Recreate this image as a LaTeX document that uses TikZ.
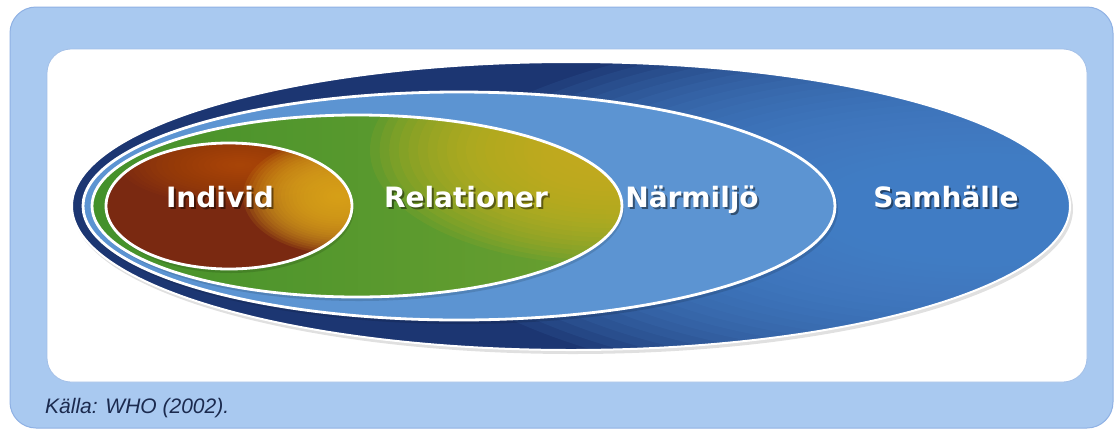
\documentclass[tikz,border=0pt]{standalone}
\usepackage{fontspec}
\setmainfont{Liberation Sans}
\newfontfamily\lblfont{DejaVu Sans}
\definecolor{frameblue}{HTML}{A9C9F0}
\definecolor{frameedge}{HTML}{8FB1E4}
\definecolor{inneredge}{HTML}{A3C0E8}
\definecolor{navy}{HTML}{1C3672}
\definecolor{samlight}{HTML}{4884CC}
\definecolor{narblue}{HTML}{5C94D2}
\definecolor{relgreenL}{HTML}{43912B}
\definecolor{relgreenR}{HTML}{6CA030}
\definecolor{relyellow}{HTML}{CDB21E}
\definecolor{indbrown}{HTML}{7A2911}
\definecolor{indochre}{HTML}{DCA61E}
\definecolor{captioncol}{HTML}{1B2A4E}
\tikzset{
  lbl/.style={font=\lblfont\bfseries\fontsize{28}{32}\selectfont, text=white, anchor=base, inner sep=0pt},
  lblshadow/.style={font=\lblfont\bfseries\fontsize{28}{32}\selectfont, text=black, text opacity=0.45, anchor=base, inner sep=0pt},
  ring/.style={draw=white, line width=2.8pt},
  softshadow/.style={fill=black, opacity=0.12},
}
\begin{document}
\begin{tikzpicture}[x=1pt,y=-1pt]
\useasboundingbox (0,0) rectangle (1115,429);
\fill[white] (0,0) rectangle (1115,429);
% frame
\draw[frameedge, fill=frameblue, line width=1pt, rounded corners=26pt] (10,7) rectangle (1113,428);
\draw[inneredge, fill=white, line width=0.8pt, rounded corners=24pt] (47,49) rectangle (1087,382);
% Samhalle
\fill[softshadow] (573,209) ellipse [x radius=500pt, y radius=145pt];
\begin{scope}
  \clip (571,206) ellipse [x radius=499pt, y radius=144pt];
  \fill[navy] (0,0) rectangle (1115,429);
  \foreach \i in {0,...,29} {
    \pgfmathsetmacro\s{1-\i/30}
    \fill[samlight, opacity=0.12] (985,210) ellipse [x radius={580*\s*1pt}, y radius={190*\s*1pt}];
  }
\end{scope}
\draw[white, line width=2pt] (571,206) ellipse [x radius=499pt, y radius=144pt];
% Narmiljo
\fill[softshadow] (461,209) ellipse [x radius=377pt, y radius=115pt];
\fill[narblue] (459,206) ellipse [x radius=376pt, y radius=114pt];
\draw[ring] (459,206) ellipse [x radius=376pt, y radius=114pt];
% Relationer
\fill[softshadow] (359,209) ellipse [x radius=265pt, y radius=92pt];
\begin{scope}
  \clip (357,206) ellipse [x radius=265pt, y radius=91pt];
  \shade[left color=relgreenL, right color=relgreenR] (90,110) rectangle (625,300);
  \foreach \i in {0,...,24} {
    \pgfmathsetmacro\s{1-\i/25}
    \fill[relyellow, opacity=0.11] (610,150) ellipse [x radius={240*\s*1pt}, y radius={115*\s*1pt}];
  }
\end{scope}
\draw[ring] (357,206) ellipse [x radius=265pt, y radius=91pt];
% Individ
\fill[softshadow] (231,209) ellipse [x radius=123pt, y radius=64pt];
\begin{scope}
  \clip (229,206) ellipse [x radius=123pt, y radius=63pt];
  \fill[indbrown] (100,140) rectangle (360,275);
  \foreach \i in {0,...,19} {
    \pgfmathsetmacro\s{1-\i/20}
    \fill[orange!60!indbrown, opacity=0.05] (240,165) ellipse [x radius={120*\s*1pt}, y radius={40*\s*1pt}];
  }
  \foreach \i in {0,...,24} {
    \pgfmathsetmacro\s{1-\i/25}
    \fill[indochre, opacity=0.13] (338,196) ellipse [x radius={95*\s*1pt}, y radius={58*\s*1pt}];
  }
\end{scope}
\draw[ring] (229,206) ellipse [x radius=123pt, y radius=63pt];
% labels
\node[lblshadow] (individS) at (222,209.5) {Individ};
\node[lbl] (individ) at (220,207.5) {Individ};
\node[lblshadow] (relationerS) at (468,209.5) {Relationer};
\node[lbl] (relationer) at (466,207.5) {Relationer};
\node[lblshadow] (narmiljoS) at (694,209.5) {Närmiljö};
\node[lbl] (narmiljo) at (692,207.5) {Närmiljö};
\node[lblshadow] (samhalleS) at (948,209.5) {Samhälle};
\node[lbl] (samhalle) at (946,207.5) {Samhälle};
% caption
\node[anchor=base west, inner sep=0pt, text=captioncol, font=\itshape\fontsize{21}{25}\selectfont] (caption) at (45,413) {Källa: WHO (2002).};
\end{tikzpicture}
\end{document}
